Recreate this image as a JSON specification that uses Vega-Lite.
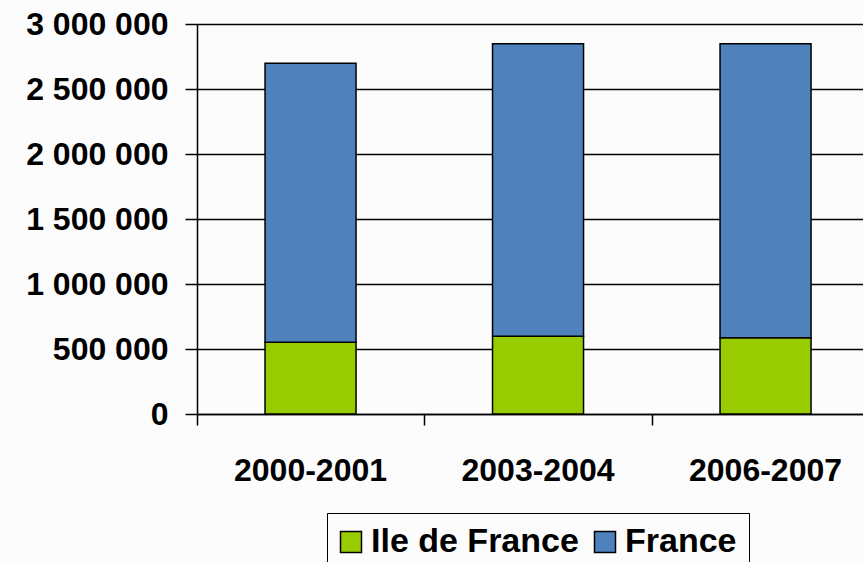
{
  "$schema": "https://vega.github.io/schema/vega-lite/v6.json",
  "width": 666,
  "height": 390,
  "autosize": {"type": "none"},
  "padding": {"left": 197, "top": 24, "right": 0, "bottom": 148},
  "background": "#fcfcfc",
  "config": {
    "locale": {"number": {"decimal": ",", "thousands": " ", "grouping": [3], "currency": ["", " €"]}},
    "view": {"stroke": null},
    "font": "Liberation Sans"
  },
  "data": {
    "values": [
      {"annee": "2000-2001", "serie": "Ile de France", "etudiants": 551000},
      {"annee": "2000-2001", "serie": "France", "etudiants": 2147000},
      {"annee": "2003-2004", "serie": "Ile de France", "etudiants": 598000},
      {"annee": "2003-2004", "serie": "France", "etudiants": 2250000},
      {"annee": "2006-2007", "serie": "Ile de France", "etudiants": 587000},
      {"annee": "2006-2007", "serie": "France", "etudiants": 2261000}
    ]
  },
  "mark": {"type": "bar", "stroke": "#000000", "strokeWidth": 1.5},
  "encoding": {
    "x": {
      "field": "annee",
      "type": "nominal",
      "scale": {"paddingInner": 0.6, "paddingOuter": 0.2637, "align": 0.567},
      "axis": {
        "title": null,
        "labelAngle": 0,
        "labelFont": "Liberation Sans",
        "labelFontSize": 32,
        "labelFontWeight": "bold",
        "labelColor": "#000000",
        "labelPadding": 30,
        "bandPosition": -0.747,
        "tickSize": 11,
        "tickColor": "#000000",
        "tickWidth": 1.5,
        "domainColor": "#000000",
        "domainWidth": 1.5,
        "grid": false
      }
    },
    "y": {
      "field": "etudiants",
      "type": "quantitative",
      "stack": "zero",
      "scale": {"domain": [0, 3000000], "nice": false},
      "axis": {
        "title": null,
        "values": [0, 500000, 1000000, 1500000, 2000000, 2500000, 3000000],
        "format": ",d",
        "labelFont": "Liberation Sans",
        "labelFontSize": 32,
        "labelFontWeight": "bold",
        "labelColor": "#000000",
        "labelPadding": 17,
        "tickSize": 12,
        "tickColor": "#000000",
        "tickWidth": 1.5,
        "domainColor": "#000000",
        "domainWidth": 1.5,
        "grid": true,
        "gridColor": "#000000",
        "gridWidth": 1.5
      }
    },
    "color": {
      "field": "serie",
      "type": "nominal",
      "scale": {"domain": ["Ile de France", "France"], "range": ["#99cc00", "#4f81bd"]},
      "legend": {
        "title": null,
        "orient": "none",
        "legendX": 130,
        "legendY": 489,
        "direction": "horizontal",
        "strokeColor": "#000000",
        "padding": 12,
        "symbolType": "square",
        "symbolSize": 441,
        "symbolOffset": -5,
        "symbolStrokeColor": "#000000",
        "symbolStrokeWidth": 1.5,
        "symbolOpacity": 1,
        "labelFont": "Liberation Sans",
        "labelFontSize": 34,
        "labelFontWeight": "bold",
        "labelColor": "#000000",
        "labelOffset": 3,
        "columnPadding": 12,
        "labelLimit": 400
      }
    },
    "order": {"field": "serie", "sort": "descending"}
  }
}
